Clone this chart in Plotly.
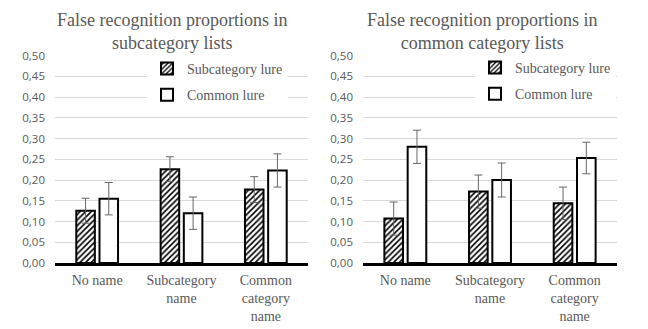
import plotly.graph_objects as go

categories = ["No name", "Subcategory<br>name", "Common<br>category<br>name"]
series_names = ["Subcategory lure", "Common lure"]

left_sub = [0.126, 0.226, 0.177]
left_sub_err = [0.030, 0.030, 0.031]
left_com = [0.155, 0.120, 0.223]
left_com_err = [0.039, 0.039, 0.040]

right_sub = [0.107, 0.172, 0.144]
right_sub_err = [0.040, 0.040, 0.039]
right_com = [0.280, 0.200, 0.253]
right_com_err = [0.040, 0.041, 0.038]

titles = ["False recognition proportions in<br>subcategory lists",
          "False recognition proportions in<br>common category lists"]

gray = "#595959"
serif = "Liberation Serif"
sans = "Open Sans"

fig = go.Figure()

def add_pair(sub, sub_err, com, com_err, xa, ya, legend):
    fig.add_trace(go.Bar(
        x=categories, y=sub, name=series_names[0], xaxis=xa, yaxis=ya, legend=legend,
        legendgroup="a" + legend,
        marker=dict(color="white", line=dict(color="black", width=2),
                    pattern=dict(shape="/", fgcolor="black", bgcolor="white", size=4, solidity=0.4)),
        error_y=dict(type="data", array=sub_err, color="#666666", thickness=1, width=4),
    ))
    fig.add_trace(go.Bar(
        x=categories, y=com, name=series_names[1], xaxis=xa, yaxis=ya, legend=legend,
        legendgroup="b" + legend,
        marker=dict(color="white", line=dict(color="black", width=2)),
        error_y=dict(type="data", array=com_err, color="#666666", thickness=1, width=4),
    ))

add_pair(left_sub, left_sub_err, left_com, left_com_err, "x", "y", "legend")
add_pair(right_sub, right_sub_err, right_com, right_com_err, "x2", "y2", "legend2")

H = 329.0
W = 648.0
ydom = [1 - 263 / H, 1 - 55.5 / H]

yax = dict(range=[0, 0.5], tickvals=[i * 0.05 for i in range(11)], tickformat=".2f",
           showgrid=True, gridcolor="#d9d9d9", gridwidth=1, zeroline=False,
           showline=False, ticks="", tickfont=dict(family=sans, size=11.5, color=gray),
           domain=ydom, fixedrange=True, automargin=False, ticklabelstandoff=9)
xax = dict(showline=True, linecolor="black", linewidth=2.5, ticks="",
           tickfont=dict(family=serif, size=14, color=gray), showgrid=False,
           automargin=False, ticklabelstandoff=2)

legend_common = dict(bgcolor="white", font=dict(family=serif, size=14, color=gray),
                     itemwidth=30, traceorder="grouped", tracegroupgap=5,
                     xanchor="left", yanchor="top")

fig.update_layout(
    template="none",
    width=648, height=329,
    margin=dict(l=0, r=0, t=0, b=0, pad=0),
    paper_bgcolor="white", plot_bgcolor="white",
    separators=",.",
    barmode="group", bargap=0.45, bargroupgap=0.2,
    xaxis=dict(domain=[55 / W, 308 / W], anchor="y", **xax),
    yaxis=dict(anchor="x", **yax),
    xaxis2=dict(domain=[363 / W, 617 / W], anchor="y2", **xax),
    yaxis2=dict(anchor="x2", **yax),
    legend=dict(x=147 / W, y=1 - 53 / H, **legend_common),
    legend2=dict(x=475 / W, y=1 - 52 / H, **legend_common),
    annotations=[
        dict(text=titles[0], x=172 / W, y=1 - 8 / H, xref="paper", yref="paper",
             xanchor="center", yanchor="top", showarrow=False,
             font=dict(family=serif, size=18, color=gray)),
        dict(text=titles[1], x=482 / W, y=1 - 8 / H, xref="paper", yref="paper",
             xanchor="center", yanchor="top", showarrow=False,
             font=dict(family=serif, size=18, color=gray)),
    ],
)

fig.write_html("out.html")
